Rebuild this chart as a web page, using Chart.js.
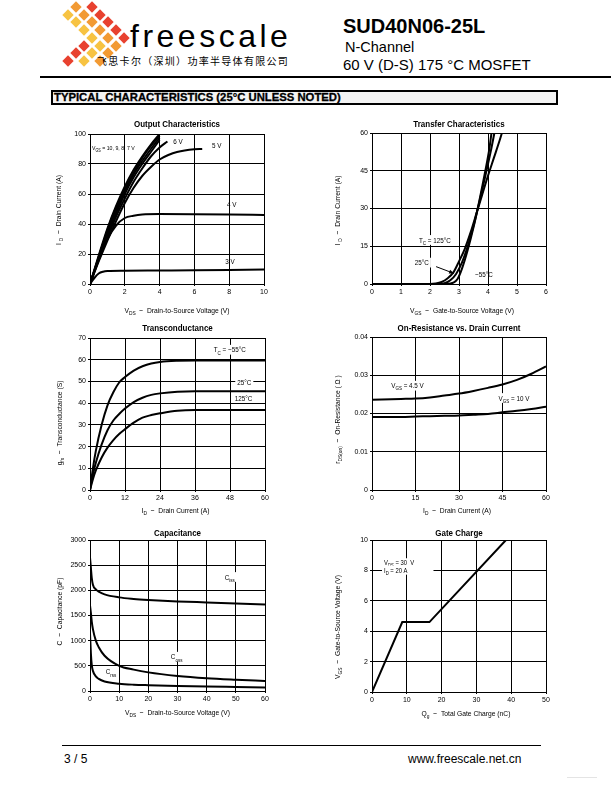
<!DOCTYPE html>
<html lang="en">
<head>
<meta charset="UTF-8">
<title>SUD40N06-25L - Typical Characteristics</title>
<style>
  html, body { margin: 0; padding: 0; background: #fff; }
  body { width: 612px; height: 792px; position: relative; overflow: hidden; font-family: 'Liberation Sans', Arial, sans-serif; color: #000; }
  .abs { position: absolute; white-space: nowrap; }
  canvas { position: absolute; }
  #logo div { position: absolute; transform: rotate(45deg); }
  .brand { left: 130px; top: 20px; font-size: 32px; line-height: 32px; letter-spacing: 3.5px; }
  .cn { left: 97px; top: 55px; font-family: 'Noto Sans CJK SC', sans-serif; font-size: 10px; line-height: 12px; letter-spacing: 1.3px; }
  .part { left: 343px; top: 16px; font-size: 20px; line-height: 20px; font-weight: bold; }
  .sub1 { left: 345px; top: 40px; font-size: 14.5px; line-height: 15px; }
  .sub2 { left: 343px; top: 57px; font-size: 15px; line-height: 15px; }
  .rule { position: absolute; background: #000; }
  .section { left: 51px; top: 90px; width: 502px; height: 11px; border: 2px solid #000; background: #f3f3f3;
             font-size: 11.3px; line-height: 11px; font-weight: bold; padding-left: 1px; -webkit-text-stroke: 0.3px #000; }
  .foot { top: 752px; font-size: 12px; line-height: 14px; }
</style>
</head>
<body>
<div id="logo" class="abs" style="left:0;top:0"></div>
<div class="abs brand">freescale</div>
<div class="abs cn">飞思卡尔（深圳）功率半导体有限公司</div>
<div class="abs part">SUD40N06-25L</div>
<div class="abs sub1">N-Channel</div>
<div class="abs sub2">60 V (D-S) 175 °C MOSFET</div>
<div class="rule" style="left:40px;top:76px;width:571px;height:2px"></div>
<div class="abs section">TYPICAL CHARACTERISTICS (25°C UNLESS NOTED)</div>

<canvas id="c1" width="274" height="206" style="left:40px;top:114px"></canvas>
<canvas id="c2" width="274" height="207" style="left:322px;top:113px"></canvas>
<canvas id="c3" width="275" height="206" style="left:40px;top:318px"></canvas>
<canvas id="c4" width="274" height="207" style="left:322px;top:317px"></canvas>
<canvas id="c5" width="275" height="204" style="left:40px;top:520px"></canvas>
<canvas id="c6" width="274" height="204" style="left:322px;top:520px"></canvas>

<div class="rule" style="left:62px;top:745px;width:479px;height:1px"></div>
<div class="abs foot" style="left:64px">3 / 5</div>
<div class="abs foot" style="left:408px">www.freescale.net.cn</div>
<div class="rule" style="left:567px;top:777px;width:30px;height:1px;background:#e4e4e4"></div>

<script src="https://cdn.jsdelivr.net/npm/chart.js"></script>
<script>
// ---- data ----

// Output characteristics: Vds (V) vs Id (A)
const outVds7to10 = [0, 0.5, 1, 1.5, 2, 2.5, 3, 3.5, 4];
const outId10V = [0, 19, 37, 52, 65, 76, 85, 93, 100];
const outId9V  = [0, 18, 36, 51, 63, 74, 84, 92, 99];
const outId8V  = [0, 18, 35, 49, 62, 73, 82, 90, 97.5];
const outId7V  = [0, 17, 33, 47, 60, 71, 80, 88, 96];
const outVds6V = [0, 0.5, 1, 1.5, 2, 2.5, 3, 3.5, 4, 4.45];
const outId6V  = [0, 16, 31, 45, 57, 68, 77, 85, 91, 95];
const outVds5V = [0, 0.5, 1, 1.5, 2, 2.5, 3, 3.5, 4, 4.5, 5, 6, 6.45];
const outId5V  = [0, 15, 29, 42, 54, 64, 72, 78, 83, 86, 88, 89.8, 90];
const outVds4V = [0, 0.5, 1, 1.5, 2, 2.5, 3, 4, 6, 8, 10];
const outId4V  = [0, 16, 30, 39, 44, 45.5, 46.3, 46.6, 46.5, 46.3, 46];
const outVds3V = [0, 0.25, 0.5, 0.75, 1, 2, 4, 6, 8, 10];
const outId3V  = [0, 4, 7, 8.2, 8.6, 8.8, 9, 9.2, 9.4, 9.6];

// Transfer characteristics: Vgs (V) vs Id (A)
const trVgs125 = [0, 2.0, 2.2, 2.4, 2.6, 2.8, 3.0, 3.2, 3.4, 3.6, 3.8, 4.0, 4.2, 4.4, 4.48];
const trId125  = [0, 0, 0.2, 0.8, 2.2, 4.5, 9, 14, 20.5, 28, 35.5, 43, 50, 57, 60];
const trVgs25  = [0, 2.3, 2.5, 2.7, 2.9, 3.1, 3.3, 3.5, 3.7, 3.9, 4.1, 4.22];
const trId25   = [0, 0, 0.3, 1.5, 4, 8.5, 15, 23, 32.5, 42.5, 53, 60];
const trVgsM55 = [0, 2.6, 2.8, 2.95, 3.1, 3.3, 3.5, 3.7, 3.9, 4.05, 4.12];
const trIdM55  = [0, 0, 0.5, 2, 6, 13.5, 22.5, 33, 44.5, 54, 60];

// Transconductance: Id (A) vs gfs (S)
const gfsId    = [0, 1, 2, 4, 6, 8, 10, 12, 15, 18, 21, 24, 30, 36, 48, 60];
const gfsM55   = [0, 10, 18, 30, 39, 45, 49.5, 52, 55, 57, 58.3, 59, 59.5, 59.6, 59.6, 59.6];
const gfs25    = [0, 7, 12.5, 21, 27.5, 32, 35, 37.5, 40.5, 42.5, 43.8, 44.5, 45.3, 45.5, 45.5, 45.5];
const gfs125   = [0, 5, 9, 15, 19.5, 23, 25.8, 28, 31, 33.3, 34.5, 35.3, 36.5, 36.8, 36.8, 36.8];

// On-resistance: Id (A) vs rDS(on) (ohm)
const ronId    = [0, 10, 15, 20, 25, 30, 35, 40, 45, 50, 55, 60];
const ron4V5   = [0.0236, 0.0238, 0.0239, 0.0242, 0.0247, 0.0252, 0.0259, 0.0267, 0.0276, 0.0288, 0.0304, 0.0323];
const ron10V   = [0.0191, 0.0191, 0.0192, 0.0193, 0.0194, 0.0195, 0.0197, 0.0199, 0.0203, 0.0207, 0.0212, 0.0218];

// Capacitance: Vds (V) vs C (pF)
const capVds   = [0, 0.3, 0.6, 1, 2, 3, 5, 10, 15, 20, 30, 40, 50, 60];
const capCiss  = [2650, 2450, 2250, 2110, 2020, 1975, 1920, 1860, 1830, 1810, 1780, 1760, 1740, 1720];
const capCoss  = [1700, 1550, 1380, 1230, 1000, 870, 700, 500, 425, 370, 300, 255, 225, 200];
const capCrss  = [1150, 750, 520, 400, 290, 240, 190, 145, 125, 115, 100, 88, 80, 72];

// Gate charge: Qg (nC) vs Vgs (V)
const gateQg   = [0, 8.7, 16.5, 38.5];
const gateVgs  = [0, 4.6, 4.6, 10];

// ---- logo ----
(function () {
  const logo = document.getElementById('logo');
  const cols = ['#e8412f', '#f29a33', '#f7c342'];
  const rightMost = [92, 100, 108, 116, 124, 116, 108, 100];
  rightMost.forEach((rx, j) => {
    for (let k = 0; k < 3; k++) {
      if (j === 0 && k === 2) continue;
      const d = document.createElement('div');
      const cx = rx - 16 * k, cy = 7 + 7.7 * j;
      d.style.cssText = `left:${cx - 4}px;top:${cy - 4}px;width:8px;height:8px;background:${cols[(k + (j > 4 ? 1 : 0)) % 3]}`;
      logo.appendChild(d);
    }
  });
})();

// ---- text helpers (supports _{sub} subscripts, drawn slightly condensed) ----
const FONT = "'Liberation Sans', Arial, sans-serif";
const HS = 0.84;          // horizontal squeeze, the datasheet uses a narrow face
const NOTE_SIZE = 7.5;
const TITLE_SIZE = 8;
const HEAD_SIZE = 9.5;

function fontOf(size, bold) { return (bold ? 'bold ' : '') + size.toFixed(2) + 'px ' + FONT; }

function richParts(str) {
  const parts = [];
  const re = /_\{([^}]*)\}/g;
  let last = 0, m;
  while ((m = re.exec(str))) {
    if (m.index > last) parts.push({ t: str.slice(last, m.index), sub: false });
    parts.push({ t: m[1], sub: true });
    last = re.lastIndex;
  }
  if (last < str.length) parts.push({ t: str.slice(last), sub: false });
  return parts;
}

function richWidth(ctx, parts, size, bold) {
  let w = 0;
  parts.forEach(p => { ctx.font = fontOf(p.sub ? size * 0.72 : size, bold); w += ctx.measureText(p.t).width; });
  return w * HS;
}

function drawRich(ctx, str, x, y, size, align, rot, bold) {
  const parts = richParts(str);
  const w = richWidth(ctx, parts, size, bold) / HS;
  ctx.save();
  ctx.translate(x, y);
  if (rot) ctx.rotate(rot);
  ctx.scale(HS, 1);
  let cx = align === 'center' ? -w / 2 : align === 'right' ? -w : 0;
  ctx.textAlign = 'left';
  ctx.textBaseline = 'alphabetic';
  ctx.fillStyle = '#000';
  parts.forEach(p => {
    ctx.font = fontOf(p.sub ? size * 0.72 : size, bold);
    ctx.fillText(p.t, cx, size * 0.36 + (p.sub ? size * 0.28 : 0));
    cx += ctx.measureText(p.t).width;
  });
  ctx.restore();
}

// chart titles, labels, arrows and axis titles
const notesPlugin = {
  id: 'notes',
  beforeDatasetsDraw(chart, args, opts) {
    const ctx = chart.ctx, sx = chart.scales.x, sy = chart.scales.y;
    ctx.save();
    (opts.labels || []).forEach(l => {
      const size = l.size || NOTE_SIZE;
      const px = sx.getPixelForValue(l.x), py = sy.getPixelForValue(l.y);
      const align = l.align || 'center';
      const w = richWidth(ctx, richParts(l.text), size);
      const x0 = align === 'left' ? px : align === 'right' ? px - w : px - w / 2;
      if (l.bg) {
        ctx.fillStyle = '#fff';
        ctx.fillRect(x0 - 2, py - size * 0.65, w + 4 + (l.padR || 0), size * 1.3);
      }
      drawRich(ctx, l.text, px, py, size, align, 0);
    });
    (opts.arrows || []).forEach(a => {
      const x1 = sx.getPixelForValue(a[0]), y1 = sy.getPixelForValue(a[1]);
      const x2 = sx.getPixelForValue(a[2]), y2 = sy.getPixelForValue(a[3]);
      const ang = Math.atan2(y2 - y1, x2 - x1);
      ctx.strokeStyle = '#000';
      ctx.lineWidth = 1;
      ctx.beginPath(); ctx.moveTo(x1, y1); ctx.lineTo(x2, y2); ctx.stroke();
      ctx.fillStyle = '#000';
      ctx.beginPath();
      ctx.moveTo(x2, y2);
      ctx.lineTo(x2 - 5 * Math.cos(ang) + 2 * Math.sin(ang), y2 - 5 * Math.sin(ang) - 2 * Math.cos(ang));
      ctx.lineTo(x2 - 5 * Math.cos(ang) - 2 * Math.sin(ang), y2 - 5 * Math.sin(ang) + 2 * Math.cos(ang));
      ctx.closePath(); ctx.fill();
    });
    ctx.restore();
  },
  afterDraw(chart, args, opts) {
    const ctx = chart.ctx, a = chart.chartArea, cx = (a.left + a.right) / 2;
    if (opts.title) drawRich(ctx, opts.title, cx, a.top - opts.titleGap, HEAD_SIZE, 'center', 0, true);
    if (opts.xTitle) drawRich(ctx, opts.xTitle, cx + (opts.xShift || 0), a.bottom + opts.xGap, TITLE_SIZE, 'center', 0);
    if (opts.yTitle) drawRich(ctx, opts.yTitle, a.left - opts.yGap, (a.top + a.bottom) / 2 + (opts.yShift || 0), TITLE_SIZE, 'center', -Math.PI / 2);
  }
};
Chart.register(notesPlugin);
Chart.defaults.font.family = FONT;
Chart.defaults.color = '#000';

function curve(xs, ys, smooth) {
  return {
    data: xs.map((x, i) => ({ x: x, y: ys[i] })),
    borderColor: '#000',
    borderWidth: 2,
    pointRadius: 0,
    fill: false,
    cubicInterpolationMode: smooth === false ? 'default' : 'monotone',
    tension: 0
  };
}

function axis(min, max, step, size, vertical) {
  return {
    type: 'linear',
    min: min, max: max,
    ticks: { stepSize: step, autoSkip: false, maxRotation: 0, padding: 2, color: '#000',
             font: { size: 7 }, callback: v => String(+Number(v).toFixed(4)) },
    grid: { color: '#000', lineWidth: 1, tickLength: 2, drawTicks: true },
    border: { color: '#000', width: 1 },
    afterFit: s => { if (vertical) s.width = size; else s.height = size; }
  };
}

function makeChart(id, o) {
  return new Chart(document.getElementById(id), {
    type: 'line',
    data: { datasets: o.datasets },
    options: {
      responsive: false,
      animation: false,
      devicePixelRatio: 1,
      layout: { padding: { left: 0, right: 50, top: 20, bottom: 0 } },
      plugins: {
        legend: { display: false },
        tooltip: { enabled: false },
        title: { display: false },
        notes: o.notes
      },
      scales: {
        x: axis(o.x[0], o.x[1], o.x[2], o.xAxisH, false),
        y: axis(o.y[0], o.y[1], o.y[2], 50, true)
      }
    }
  });
}

makeChart('c1', {
  x: [0, 10, 2], y: [0, 100, 20], xAxisH: 36,
  datasets: [
    curve(outVds7to10, outId10V), curve(outVds7to10, outId9V),
    curve(outVds7to10, outId8V), curve(outVds7to10, outId7V),
    curve(outVds6V, outId6V), curve(outVds5V, outId5V),
    curve(outVds4V, outId4V), curve(outVds3V, outId3V)
  ],
  notes: {
    title: 'Output Characteristics', titleGap: 10.7,
    xTitle: 'V_{DS}  −  Drain-to-Source Voltage (V)', xGap: 26,
    yTitle: 'I _{D}  −  Drain Current (A)', yGap: 32, yShift: 1,
    labels: [
      { x: 0.11, y: 90.7, text: 'V_{GS} = 10, 9, 8, 7 V', align: 'left', size: 6.2 },
      { x: 5.06, y: 95.3, text: '6 V' },
      { x: 7.28, y: 92.7, text: '5 V' },
      { x: 8.14, y: 53.1, text: '4 V' },
      { x: 8.05, y: 15.3, text: '3 V' }
    ]
  }
});

makeChart('c2', {
  x: [0, 6, 1], y: [0, 60, 15], xAxisH: 36,
  datasets: [
    curve(trVgs125, trId125), curve(trVgs25, trId25), curve(trVgsM55, trIdM55)
  ],
  notes: {
    title: 'Transfer Characteristics', titleGap: 9.7,
    xTitle: 'V_{GS}  −  Gate-to-Source Voltage (V)', xGap: 26, xShift: 3,
    yTitle: 'I _{D}  −  Drain Current (A)', yGap: 35, yShift: 2,
    labels: [
      { x: 2.17, y: 17.5, text: 'T_{C} = 125°C', bg: true },
      { x: 1.72, y: 8.5, text: '25°C', bg: true },
      { x: 3.86, y: 4.0, text: '−55°C' }
    ],
    arrows: [[2.21, 6.9, 2.83, 4.2]]
  }
});

makeChart('c3', {
  x: [0, 60, 12], y: [0, 70, 10], xAxisH: 34,
  datasets: [curve(gfsId, gfsM55), curve(gfsId, gfs25), curve(gfsId, gfs125)],
  notes: {
    title: 'Transconductance', titleGap: 10.7,
    xTitle: 'I_{D}  −  Drain Current (A)', xGap: 20, xShift: -2,
    yTitle: 'g_{fs}  −  Transconductance (S)', yGap: 31, yShift: 9,
    labels: [
      { x: 47.9, y: 64.6, text: 'T_{C} = −55°C', bg: true },
      { x: 52.9, y: 49.7, text: '25°C', bg: true },
      { x: 52.6, y: 42.4, text: '125°C', bg: true }
    ]
  }
});

makeChart('c4', {
  x: [0, 60, 15], y: [0, 0.04, 0.01], xAxisH: 34,
  datasets: [curve(ronId, ron4V5), curve(ronId, ron10V)],
  notes: {
    title: 'On-Resistance vs. Drain Current', titleGap: 9.7,
    xTitle: 'I_{D}  −  Drain Current (A)', xGap: 20, xShift: -2,
    yTitle: 'r_{DS(on)}  −  On-Resistance ( Ω )', yGap: 35, yShift: 6,
    labels: [
      { x: 12.24, y: 0.02727, text: 'V_{GS} = 4.5 V', bg: true },
      { x: 48.97, y: 0.02405, text: 'V_{GS} = 10 V', bg: true }
    ]
  }
});

makeChart('c5', {
  x: [0, 60, 10], y: [0, 3000, 500], xAxisH: 33,
  datasets: [curve(capVds, capCiss), curve(capVds, capCoss), curve(capVds, capCrss)],
  notes: {
    title: 'Capacitance', titleGap: 7.7,
    xTitle: 'V_{DS}  −  Drain-to-Source Voltage (V)', xGap: 21,
    yTitle: 'C  −  Capacitance (pF)', yGap: 31, yShift: -4,
    labels: [
      { x: 47.9, y: 2265, text: 'C_{iss}', bg: true },
      { x: 29.7, y: 681, text: 'C_{oss}', bg: true },
      { x: 7.2, y: 383, text: 'C_{rss}', bg: true }
    ]
  }
});

makeChart('c6', {
  x: [0, 50, 10], y: [0, 10, 2], xAxisH: 32,
  datasets: [curve(gateQg, gateVgs, false)],
  notes: {
    title: 'Gate Charge', titleGap: 7.7,
    xTitle: 'Q_{g}  −  Total Gate Charge (nC)', xGap: 21, xShift: 7,
    yTitle: 'V_{GS}  −  Gate-to-Source Voltage (V)', yGap: 35, yShift: 11,
    labels: [
      { x: 3.45, y: 8.5, text: 'V_{DS} = 30  V', align: 'left', bg: true, padR: 24, size: 7 },
      { x: 3.45, y: 8.02, text: 'I_{D} = 20 A', align: 'left', bg: true, padR: 24, size: 7 }
    ]
  }
});
</script>
</body>
</html>
